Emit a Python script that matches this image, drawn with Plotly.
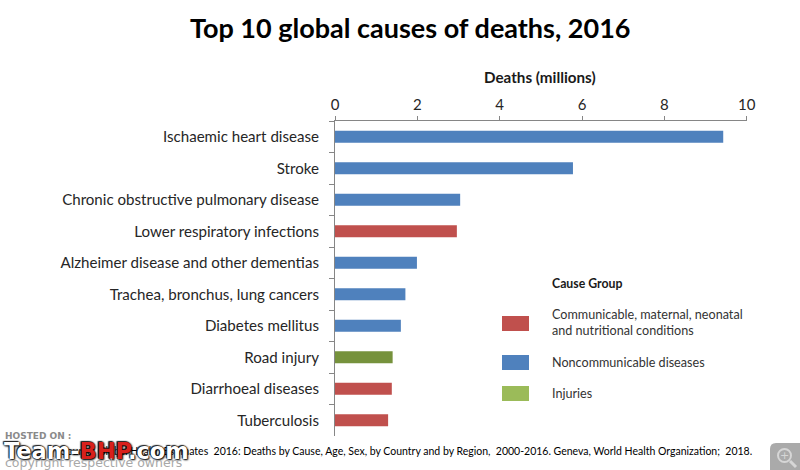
import plotly.graph_objects as go

causes = ["Ischaemic heart disease", "Stroke", "Chronic obstructive pulmonary disease",
          "Lower respiratory infections", "Alzheimer disease and other dementias",
          "Trachea, bronchus, lung cancers", "Diabetes mellitus", "Road injury",
          "Diarrhoeal diseases", "Tuberculosis"]
deaths = [9.43, 5.78, 3.04, 2.96, 1.99, 1.71, 1.60, 1.40, 1.38, 1.29]
groups = ["N", "N", "N", "C", "N", "N", "N", "I", "C", "C"]
bar_colors = {"N": "#4f81bd", "C": "#c0504d", "I": "#76923c"}
x_ticks = [0, 2, 4, 6, 8, 10]
legend_items = [("Communicable, maternal, neonatal<br>and nutritional conditions", "#c0504d", 323),
                ("Noncommunicable diseases", "#4f81bd", 362),
                ("Injuries", "#9bbb59", 393)]
source = ("Source: Global Health Estimates  2016: Deaths by Cause, Age, Sex, by Country and by Region, "
          " 2000-2016. Geneva, World Health Organization;  2018.")

W, H = 800, 470
FONT = "Lato"
px = lambda x: x / W
py = lambda y: 1 - y / H

fig = go.Figure(go.Bar(
    x=deaths, y=causes, orientation="h",
    marker=dict(color=[bar_colors[g] for g in groups], line_width=0),
    width=0.38, showlegend=False, hoverinfo="skip"))

fig.update_layout(
    width=W, height=H, margin=dict(l=0, r=0, t=0, b=0, autoexpand=False),
    paper_bgcolor="white", plot_bgcolor="white",
    font=dict(family=FONT, color="#262626"),
    xaxis=dict(domain=[px(335), px(746.7)], range=[0, 10], side="top", anchor="y",
               tickmode="array", tickvals=x_ticks, ticks="outside", ticklen=4, tickcolor="#868686",
               showline=True, linecolor="#868686", linewidth=1, showgrid=False, zeroline=False,
               tickfont=dict(size=15, color="#262626")),
    yaxis=dict(domain=[py(436), py(121)], autorange="reversed", type="category", tickson="boundaries",
               ticks="outside", ticklen=5, tickcolor="#868686", showline=True, linecolor="#868686",
               linewidth=1, showgrid=False, ticklabelstandoff=12,
               tickfont=dict(size=15.1, color="#262626")),
)

def note(text, x, y, size, color="#1a1a1a", anchor="left", family=FONT, shadow=None, **kw):
    font = dict(size=size, color=color, family=family)
    if shadow:
        font["shadow"] = shadow
    fig.add_annotation(text=text, x=px(x), y=py(y), xref="paper", yref="paper", xanchor=anchor,
                       yanchor="middle", showarrow=False, align="left", font=font, **kw)

note("<b>Top 10 global causes of deaths, 2016</b>", 410, 28, 27, "#000000", "center")
note("<b>Deaths (millions)</b>", 540, 77, 15.2, "#1a1a1a", "center")
note("<b>Cause Group</b>", 550, 283, 12.3)

for label, color, yc in legend_items:
    fig.add_shape(type="rect", xref="paper", yref="paper", x0=px(502), x1=px(529),
                  y0=py(yc + 8), y1=py(yc - 7), fillcolor=color, line_width=0)
    note(label, 550, yc - 1 if "<br>" in label else yc, 12.6, "#333333")

note(source, 754, 451, 10.5, "#000000", "right")

# Host watermark and viewer badge
note("<b>HOSTED ON :</b>", 3, 436, 9, "#8a8a8a", family="DejaVu Sans")
note("<b>Team-<span style='color:#d8201c'>BHP</span>.com</b>", 2, 451, 22.5, "#ffffff", family="DejaVu Sans",
     shadow="0 0 1px #000000, 0 0 2px #000000, 1px 1px 2px #000000, -1px -1px 1px #333333")
note("copyright respective owners", 3, 462, 12.5, "#a8a8a8", family="DejaVu Sans")

badge = f"M {px(800)},{py(470)} L {px(770)},{py(470)} L {px(770)},{py(449)} Q {px(770)},{py(443)} {px(776)},{py(443)} L {px(800)},{py(443)} Z"
fig.add_shape(type="path", xref="paper", yref="paper", path=badge, fillcolor="#aaaaaa", line_width=0)
fig.add_shape(type="circle", xref="paper", yref="paper", x0=px(778), x1=px(791), y0=py(462), y1=py(449),
              line=dict(color="#d6d6d6", width=2), fillcolor="rgba(0,0,0,0)")
fig.add_shape(type="line", xref="paper", yref="paper", x0=px(790), x1=px(796), y0=py(461), y1=py(467),
              line=dict(color="#d6d6d6", width=3))
note("+", 784.5, 455.5, 11, "#d6d6d6", "center", family="DejaVu Sans")

fig.write_html("out.html", post_script="document.body.style.margin='0';",
               config={"displayModeBar": False})
